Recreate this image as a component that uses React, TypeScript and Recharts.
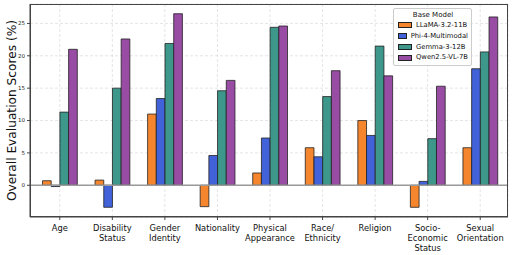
import React from "react";
import {
  BarChart,
  Bar,
  XAxis,
  YAxis,
  CartesianGrid,
  ReferenceLine,
} from "recharts";

// ─── Data ─────────────────────────────────────────────────────────────────────

const categories = [
  "Age",
  "Disability\nStatus",
  "Gender\nIdentity",
  "Nationality",
  "Physical\nAppearance",
  "Race/\nEthnicity",
  "Religion",
  "Socio-\nEconomic\nStatus",
  "Sexual\nOrientation",
];

const llama = [0.7, 0.8, 11.0, -3.3, 1.9, 5.8, 10.0, -3.4, 5.8];
const phi = [-0.2, -3.4, 13.4, 4.6, 7.3, 4.4, 7.7, 0.6, 18.0];
const gemma = [11.3, 15.0, 21.9, 14.6, 24.4, 13.7, 21.5, 7.2, 20.6];
const qwen = [21.0, 22.6, 26.5, 16.2, 24.6, 17.7, 16.9, 15.3, 26.0];

const yTicks = [0, 5, 10, 15, 20, 25];

const series = [
  { key: "llama", name: "LLaMA-3.2-11B", color: "#f5862e", values: llama },
  { key: "phi", name: "Phi-4-Multimodal", color: "#4262d9", values: phi },
  { key: "gemma", name: "Gemma-3-12B", color: "#3d978a", values: gemma },
  { key: "qwen", name: "Qwen2.5-VL-7B", color: "#984ca3", values: qwen },
];

const chartData = categories.map((cat, i) => {
  const row: Record<string, string | number> = { cat };
  series.forEach((s) => {
    row[s.key] = s.values[i];
  });
  return row;
});

const FONT = "DejaVu Sans, sans-serif";

// ─── Pieces ───────────────────────────────────────────────────────────────────

function CategoryTick({ x, y, payload }: any) {
  const lines = String(payload.value).split("\n");
  return (
    <text
      x={x}
      y={y + 9}
      textAnchor="middle"
      fontSize={8.3}
      fontFamily={FONT}
      fill="#111"
    >
      {lines.map((l, i) => (
        <tspan key={i} x={x} dy={i === 0 ? 0 : 10.2}>
          {l}
        </tspan>
      ))}
    </text>
  );
}

function LegendBox() {
  return (
    <div
      style={{
        position: "absolute",
        left: 393,
        top: 8,
        width: 79,
        height: 58,
        boxSizing: "border-box",
        fontFamily: FONT,
        background: "rgba(255,255,255,0.92)",
        border: "1px solid #ccc",
        borderRadius: 2,
        padding: "1px 3px 0 4px",
        color: "#111",
      }}
    >
      <div style={{ fontSize: 7, textAlign: "center", lineHeight: "10px" }}>
        Base Model
      </div>
      {series.map((s) => (
        <div
          key={s.key}
          style={{
            display: "flex",
            alignItems: "center",
            fontSize: 6.8,
            lineHeight: "10.8px",
            whiteSpace: "nowrap",
          }}
        >
          <span
            style={{
              display: "inline-block",
              width: 12,
              height: 4,
              background: s.color,
              border: "1px solid #222",
              marginRight: 4,
            }}
          />
          {s.name}
        </div>
      ))}
    </div>
  );
}

// ─── Component ────────────────────────────────────────────────────────────────

export default function App() {
  return (
    <div
      style={{
        position: "absolute",
        left: 0,
        top: 0,
        width: 514,
        height: 255,
        background: "#fff",
      }}
    >
      <BarChart
        width={514}
        height={255}
        data={chartData}
        margin={{ top: 4, right: 6, bottom: 0, left: 0 }}
        barGap={0}
        barSize={8.7}
      >
        <CartesianGrid stroke="#d4d4d4" strokeDasharray="3 2" strokeWidth={0.6} />
        <XAxis
          dataKey="cat"
          interval={0}
          height={38}
          padding={{ left: 3.5, right: 1.5 }}
          tick={<CategoryTick />}
          tickLine={{ stroke: "#444" }}
          tickSize={3}
          axisLine={{ stroke: "#444", strokeWidth: 1 }}
        />
        <YAxis
          domain={[-4.9, 28]}
          ticks={yTicks}
          width={30}
          tickSize={3}
          tickLine={{ stroke: "#444" }}
          axisLine={{ stroke: "#444", strokeWidth: 1 }}
          tick={{ fontSize: 5.5, fill: "#222", fontFamily: FONT }}
          label={{
            content: ({ viewBox }: any) => (
              <text
                x={16}
                y={viewBox.y + viewBox.height / 2}
                transform={`rotate(-90, 16, ${viewBox.y + viewBox.height / 2})`}
                textAnchor="middle"
                fontSize={12.2}
                fontFamily={FONT}
                fill="#111"
              >
                Overall Evaluation Scores (%)
              </text>
            ),
          }}
        />
        <ReferenceLine y={0} stroke="#9a9a9a" strokeWidth={1.6} />
        {series.map((s) => (
          <Bar
            key={s.key}
            dataKey={s.key}
            name={s.name}
            fill={s.color}
            stroke="#222"
            strokeWidth={0.8}
            isAnimationActive={false}
          />
        ))}
      </BarChart>
      <div
        style={{
          position: "absolute",
          left: 30,
          top: 4,
          width: 478,
          height: 213,
          boxSizing: "border-box",
          border: "1px solid #444",
          pointerEvents: "none",
        }}
      />
      <LegendBox />
    </div>
  );
}
